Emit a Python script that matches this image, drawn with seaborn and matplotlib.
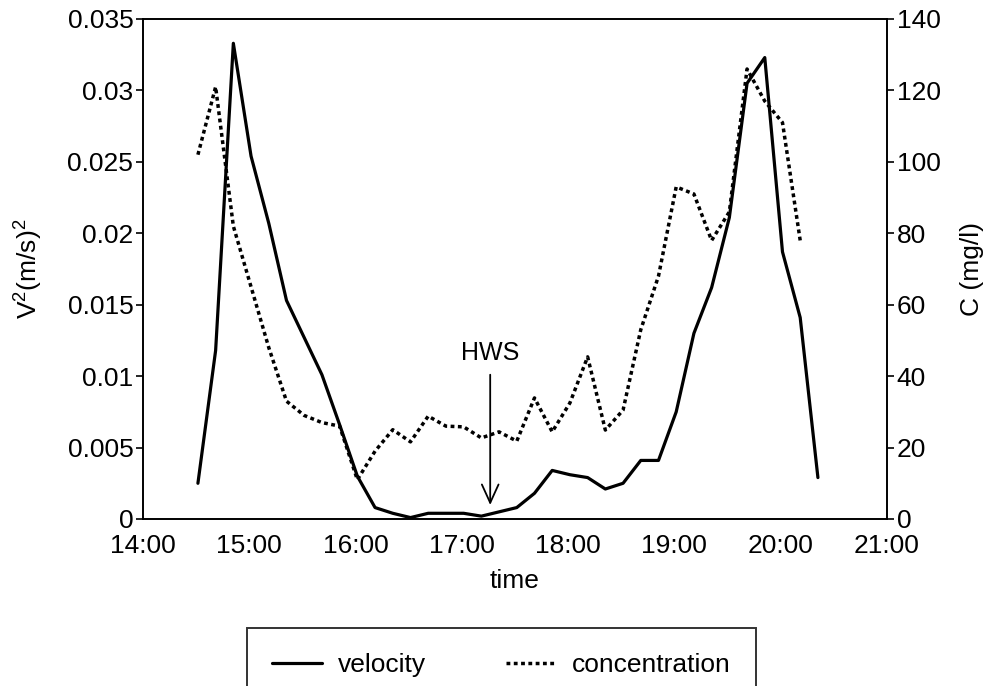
import matplotlib
matplotlib.use("Agg")
import matplotlib.pyplot as plt
import seaborn as sns
import pandas as pd

# ---- data ----
times = ["14:31", "14:41", "14:51", "15:01", "15:11", "15:21", "15:31", "15:41", "15:51",
         "16:01", "16:11", "16:21", "16:31", "16:41", "16:51", "17:01", "17:11", "17:21",
         "17:31", "17:41", "17:51", "18:01", "18:11", "18:21", "18:31", "18:41", "18:51",
         "19:01", "19:11", "19:21", "19:31", "19:41", "19:51", "20:01", "20:11", "20:21"]

velocity = [0.0025, 0.0118, 0.0333, 0.0254, 0.0207, 0.0153, 0.0127, 0.0101, 0.0066,
            0.0030, 0.0008, 0.0004, 0.0001, 0.0004, 0.0004, 0.0004, 0.0002, 0.0005,
            0.0008, 0.0018, 0.0034, 0.0031, 0.0029, 0.0021, 0.0025, 0.0041, 0.0041,
            0.0075, 0.0130, 0.0162, 0.0211, 0.0305, 0.0323, 0.0187, 0.0141, 0.0029]

concentration = [102, 121, 82, 65, 48, 33, 29, 27, 26,
                  11, 19, 25, 21.6, 28.8, 26, 25.8, 22.7, 24.4,
                  21.8, 33.9, 24.4, 32.5, 45.4, 24.9, 30.5, 53, 68,
                  93, 91, 78, 86, 126, 117, 111, 78]

x_tick_labels = ["14:00", "15:00", "16:00", "17:00", "18:00", "19:00", "20:00", "21:00"]
left_tick_values = [0, 0.005, 0.01, 0.015, 0.02, 0.025, 0.03, 0.035]
left_tick_labels = ["0", "0.005", "0.01", "0.015", "0.02", "0.025", "0.03", "0.035"]
right_tick_values = [0, 20, 40, 60, 80, 100, 120, 140]

hws_time = "17:16"


def to_hours(s):
    h, m = s.split(":")
    return int(h) - 14 + int(m) / 60.0


df_v = pd.DataFrame({"t": [to_hours(s) for s in times], "v": velocity})
df_c = pd.DataFrame({"t": [to_hours(s) for s in times[:len(concentration)]], "c": concentration})

# ---- style ----
sns.set_theme(style="white")
plt.rcParams["font.family"] = ["Liberation Sans", "DejaVu Sans"]
plt.rcParams["mathtext.default"] = "regular"
plt.rcParams["text.color"] = "black"
plt.rcParams["axes.labelcolor"] = "black"
plt.rcParams["xtick.color"] = "black"
plt.rcParams["ytick.color"] = "black"
plt.rcParams["axes.edgecolor"] = "black"
plt.rcParams["axes.linewidth"] = 1.2
FS = 19

fig = plt.figure(figsize=(9.92, 6.86), dpi=100)
ax = fig.add_axes([143 / 992, 1 - 519 / 686, (887 - 143) / 992, (519 - 19) / 686])
ax2 = ax.twinx()

sns.lineplot(data=df_v, x="t", y="v", ax=ax, color="black", linewidth=2.3,
             label="velocity", legend=False)
sns.lineplot(data=df_c, x="t", y="c", ax=ax2, color="black", linewidth=2.5,
             linestyle=(0, (1.1, 1.0)), dash_capstyle="butt",
             label="concentration", legend=False)

ax.set_xlim(0, 7)
ax.set_ylim(0, 0.035)
ax2.set_ylim(0, 140)
ax.set_xticks(range(len(x_tick_labels)))
ax.set_xticklabels(x_tick_labels, fontsize=FS)
ax.set_yticks(left_tick_values)
ax.set_yticklabels(left_tick_labels, fontsize=FS)
ax2.set_yticks(right_tick_values)
ax2.set_yticklabels([str(v) for v in right_tick_values], fontsize=FS)

for a in (ax, ax2):
    a.tick_params(direction="out", length=5, width=1.2, color="black",
                  labelcolor="black", pad=2)
    for sp in a.spines.values():
        sp.set_color("black")
        sp.set_linewidth(1.2)
    a.grid(False)
ax.tick_params(axis="x", pad=6)

ax.set_xlabel("time", fontsize=FS, labelpad=8)
ax.set_ylabel(r"V$^2$(m/s)$^2$", fontsize=FS, labelpad=16)
ax2.set_ylabel("C (mg/l)", fontsize=FS, labelpad=14)

# HWS annotation
tx = to_hours(hws_time)
ax.annotate("", xy=(tx, 0.00098), xytext=(tx, 0.0101),
            arrowprops=dict(arrowstyle="->,head_length=1.1,head_width=0.5",
                            color="black", lw=1.3, shrinkA=0, shrinkB=0))
ax.text(tx, 0.0116, "HWS", ha="center", va="center", fontsize=FS - 1)

# legend (box top at y=628 px, bottom runs past the figure edge as in the reference)
h1 = ax.get_lines()[0]
h2 = ax2.get_lines()[0]
leg_top = 1 - 628 / 686
leg = fig.legend([h1, h2], ["velocity", "concentration"], loc="upper left",
                 bbox_to_anchor=(247 / 992, leg_top - 0.01, (756 - 247) / 992, 0.01),
                 mode="expand", ncol=2, fontsize=FS,
                 frameon=True, fancybox=False, edgecolor="black", borderpad=0.95,
                 handlelength=1.9, handletextpad=0.6, columnspacing=3.0,
                 borderaxespad=0)
leg.get_frame().set_linewidth(1.4)

fig.savefig("out.png", dpi=100)
